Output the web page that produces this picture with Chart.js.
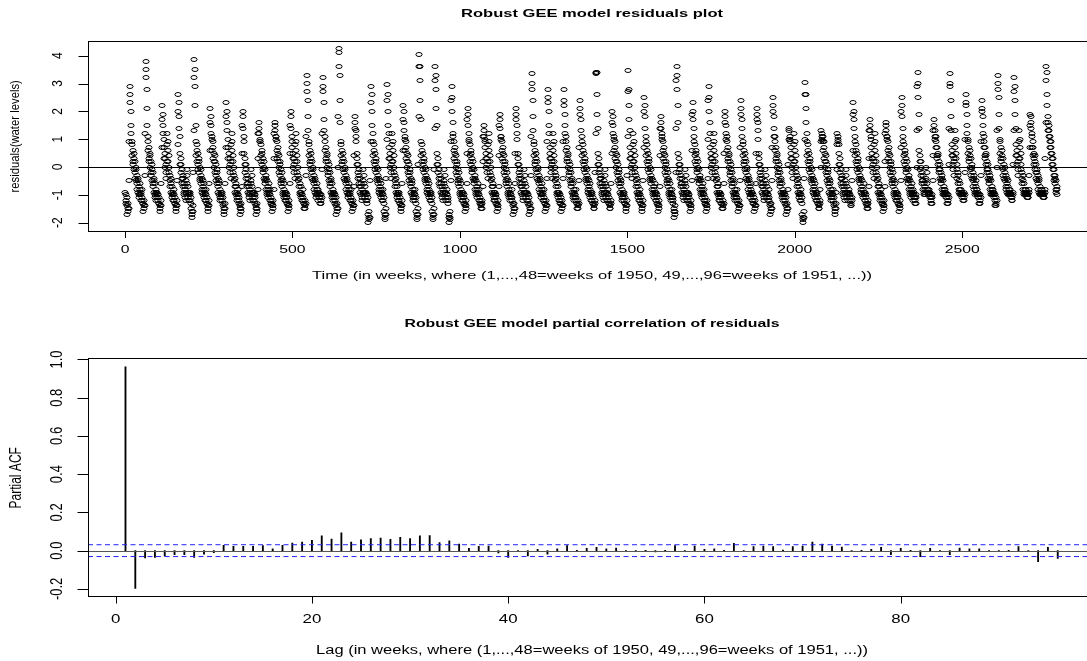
<!DOCTYPE html>
<html><head><meta charset="utf-8">
<script src="https://cdn.jsdelivr.net/npm/chart.js@4/dist/chart.umd.min.js"></script>
<style>
html,body{margin:0;padding:0;background:#fff;overflow:hidden;width:1087px;height:661px;position:relative;}
#c1{position:absolute;left:0;top:0;}
#c2{position:absolute;left:0;top:290px;}
</style></head><body>
<canvas id="c1" width="1110" height="290"></canvas>
<canvas id="c2" width="1110" height="371"></canvas>
<script>
// ---------- DATA (one line per 48-week year) ----------
const residuals = [
-0.9,-1.2,-1.0,-1.3,-1.1,-1.4,-1.7,-1.5,-1.6,-1.3,-1.5,-0.5,0.9,2.3,2.9,2.6,2.0,1.5,1.2,0.9,0.4,0.8,0.2,0.6,0.1,0.5,-0.1,0.3,-0.2,0.2,-0.4,0.0,-0.5,-0.1,-0.6,-0.3,-0.8,-0.4,-0.9,-0.5,-1.0,-0.7,-1.1,-0.8,-0.6,-1.0,-0.9,-1.2,
-1.0,-0.8,-1.2,-1.1,-1.3,-1.3,-1.6,-1.4,-1.5,-1.2,-1.4,-0.3,1.2,3.2,3.8,3.5,2.8,2.1,1.5,1.1,0.6,0.9,0.3,0.7,0.2,0.5,0.0,0.4,-0.2,0.2,-0.3,0.1,-0.5,-0.1,-0.6,-0.2,-0.7,-0.4,-0.9,-0.5,-1.0,-0.6,-1.1,-0.8,-1.2,-0.9,-1.0,-1.1,
-0.9,-1.2,-1.0,-1.3,-1.1,-1.3,-1.6,-1.4,-1.5,-1.2,-1.4,-0.6,0.7,1.7,2.2,1.9,1.5,1.2,1.0,0.7,0.3,0.5,0.0,0.3,-0.2,0.1,-0.4,0.2,0.8,1.2,0.6,0.9,0.2,0.4,-0.2,0.0,-0.5,-0.3,-0.7,-0.4,-0.9,-0.6,-1.0,-0.7,-1.1,-0.9,-1.2,-1.0,
-1.0,-0.8,-1.2,-1.1,-1.3,-1.3,-1.6,-1.4,-1.5,-1.2,-1.4,-0.5,0.8,2.0,2.6,2.3,1.8,1.4,1.1,0.5,0.1,0.3,-0.2,0.1,-0.4,-0.1,-0.6,-0.3,-0.7,-0.4,-0.9,-0.6,-1.0,-0.7,-1.1,-0.8,-1.2,-0.9,-0.5,-0.1,-0.6,-0.3,-0.9,-0.7,-1.1,-0.9,-1.2,-1.0,
-0.9,-1.2,-1.0,-1.3,-1.1,-1.5,-1.8,-1.6,-1.7,-1.4,-1.6,-0.2,1.3,3.2,3.85,3.5,2.9,2.2,1.5,0.9,0.4,0.8,0.2,0.6,0.1,0.5,-0.1,0.3,-0.2,0.2,-0.4,0.0,-0.5,-0.1,-0.6,-0.3,-0.8,-0.4,-0.9,-0.5,-1.0,-0.7,-1.1,-0.8,-0.6,-1.0,-0.9,-1.2,
-1.0,-0.8,-1.2,-1.1,-1.3,-1.3,-1.6,-1.4,-1.5,-1.2,-1.4,-0.6,0.6,1.6,2.1,1.8,1.5,1.2,1.0,1.1,0.6,0.9,0.3,0.7,0.2,0.5,0.0,0.4,-0.2,0.2,-0.3,0.1,-0.5,-0.1,-0.6,-0.2,-0.7,-0.4,-0.9,-0.5,-1.0,-0.6,-1.1,-0.8,-1.2,-0.9,-1.0,-1.1,
-0.9,-1.2,-1.0,-1.3,-1.1,-1.4,-1.7,-1.5,-1.6,-1.3,-1.5,-0.6,0.7,1.8,2.3,2.0,1.6,1.3,1.0,0.7,0.3,0.5,0.0,0.3,-0.2,0.1,-0.4,0.2,0.8,1.2,0.6,0.9,0.2,0.4,-0.2,0.0,-0.5,-0.3,-0.7,-0.4,-0.9,-0.6,-1.0,-0.7,-1.1,-0.9,-1.2,-1.0,
-1.0,-0.8,-1.2,-1.1,-1.3,-1.4,-1.7,-1.5,-1.6,-1.3,-1.5,-0.7,0.5,1.5,2.0,1.8,1.4,1.1,0.9,0.5,0.1,0.3,-0.2,0.1,-0.4,-0.1,-0.6,-0.3,-0.7,-0.4,-0.9,-0.6,-1.0,-0.7,-1.1,-0.8,-1.2,-0.9,-0.5,-0.1,-0.6,-0.3,-0.9,-0.7,-1.1,-0.9,-1.2,-1.0,
-0.9,-1.2,-1.0,-1.3,-1.1,-1.4,-1.7,-1.5,-1.6,-1.3,-1.5,-0.8,0.3,1.2,1.6,1.4,1.2,1.0,0.9,0.9,0.4,0.8,0.2,0.6,0.1,0.5,-0.1,0.3,-0.2,0.2,-0.4,0.0,-0.5,-0.1,-0.6,-0.3,-0.8,-0.4,-0.9,-0.5,-1.0,-0.7,-1.1,-0.8,-0.6,-1.0,-0.9,-1.2,
-1.0,-0.8,-1.2,-1.1,-1.3,-1.3,-1.6,-1.4,-1.5,-1.2,-1.4,-0.8,0.3,1.2,1.6,1.5,1.3,1.1,1.0,1.1,0.6,0.9,0.3,0.7,0.2,0.5,0.0,0.4,-0.2,0.2,-0.3,0.1,-0.5,-0.1,-0.6,-0.2,-0.7,-0.4,-0.9,-0.5,-1.0,-0.6,-1.1,-0.8,-1.2,-0.9,-1.0,-1.1,
-0.9,-1.2,-1.0,-1.3,-1.1,-1.3,-1.6,-1.4,-1.5,-1.2,-1.4,-0.6,0.5,1.5,2.0,1.8,1.4,1.1,0.9,0.7,0.3,0.5,0.0,0.3,-0.2,0.1,-0.4,0.2,0.8,1.2,0.6,0.9,0.2,0.4,-0.2,0.0,-0.5,-0.3,-0.7,-0.4,-0.9,-0.6,-1.0,-0.7,-1.1,-0.9,-1.2,-1.0,
-1.0,-0.8,-1.2,-1.1,-1.3,-1.3,-1.5,-1.4,-1.5,-1.2,-1.3,-0.3,1.1,2.7,3.3,3.0,2.4,1.8,1.3,0.9,0.4,0.8,0.2,0.6,0.1,0.5,-0.1,0.3,-0.2,0.2,-0.4,0.0,-0.5,-0.1,-0.6,-0.3,-0.8,-0.4,-0.9,-0.5,-1.0,-0.7,-1.1,-0.8,-0.6,-1.0,-0.9,-1.2,
-0.8,-1.0,-0.9,-1.1,-1.0,-1.1,-1.3,-1.2,-1.3,-1.0,-1.1,-0.1,1.2,2.7,3.2,2.9,2.3,1.7,1.3,1.1,0.6,0.9,0.3,0.7,0.2,0.5,0.0,0.4,-0.2,0.2,-0.3,0.1,-0.5,-0.1,-0.6,-0.2,-0.7,-0.4,-0.9,-0.5,-1.0,-0.6,-1.1,-0.8,-1.2,-0.9,-1.0,-1.1,
-0.9,-1.2,-1.0,-1.3,-1.1,-1.4,-1.7,-1.5,-1.6,-1.3,-1.5,0.0,1.8,3.6,4.25,4.1,3.3,2.4,1.6,0.9,0.4,0.8,0.2,0.6,0.1,0.5,-0.1,0.3,-0.2,0.2,-0.4,0.0,-0.5,-0.1,-0.6,-0.3,-0.8,-0.4,-0.9,-0.5,-1.0,-0.7,-1.1,-0.8,-0.6,-1.0,-0.9,-1.2,
-1.0,-0.8,-1.2,-1.1,-1.3,-1.3,-1.6,-1.4,-1.5,-1.2,-1.4,-0.7,0.4,1.4,1.8,1.6,1.3,1.1,0.9,0.5,0.1,0.3,-0.2,0.1,-0.4,-0.1,-0.6,-0.3,-0.7,-0.4,-0.9,-0.6,-1.0,-0.7,-1.1,-0.8,-1.2,-0.9,-0.5,-0.1,-0.6,-0.3,-0.9,-0.7,-1.1,-0.9,-1.2,-1.0,
-0.9,-1.2,-1.0,-1.3,-1.1,-1.7,-2.0,-1.8,-1.9,-1.6,-1.8,-0.5,0.9,2.3,2.9,2.6,2.0,1.5,1.2,0.9,0.4,0.8,0.2,0.6,0.1,0.5,-0.1,0.3,-0.2,0.2,-0.4,0.0,-0.5,-0.1,-0.6,-0.3,-0.8,-0.4,-0.9,-0.5,-1.0,-0.7,-1.1,-0.8,-0.6,-1.0,-0.9,-1.2,
-1.0,-0.8,-1.2,-1.1,-1.3,-1.6,-1.9,-1.7,-1.8,-1.5,-1.7,-0.4,1.0,2.4,2.95,2.6,2.0,1.5,1.2,0.7,0.3,0.5,0.0,0.3,-0.2,0.1,-0.4,0.2,0.8,1.2,0.6,0.9,0.2,0.4,-0.2,0.0,-0.5,-0.3,-0.7,-0.4,-0.9,-0.6,-1.0,-0.7,-1.1,-0.9,-1.2,-1.0,
-0.9,-1.2,-1.0,-1.3,-1.1,-1.3,-1.6,-1.4,-1.5,-1.2,-1.4,-0.6,0.6,1.7,2.2,2.0,1.6,1.3,1.0,1.1,0.6,0.9,0.3,0.7,0.2,0.5,0.0,0.4,-0.2,0.2,-0.3,0.1,-0.5,-0.1,-0.6,-0.2,-0.7,-0.4,-0.9,-0.5,-1.0,-0.6,-1.1,-0.8,-1.2,-0.9,-1.0,-1.1,
-1.0,-0.8,-1.2,-1.1,-1.3,-1.6,-1.9,-1.7,-1.8,-1.5,-1.7,0.1,1.8,3.6,4.05,3.6,3.1,2.4,1.7,0.9,0.4,0.8,0.2,0.6,0.1,0.5,-0.1,0.3,-0.2,0.2,-0.4,0.0,-0.5,-0.1,-0.6,-0.3,-0.8,-0.4,-0.9,-0.5,-1.0,-0.7,-1.1,-0.8,-0.6,-1.0,-0.9,-1.2,
-0.9,-1.2,-1.0,-1.3,-1.1,-1.6,-1.9,-1.7,-1.8,-1.5,-1.7,-0.1,1.4,3.1,3.6,3.3,2.8,2.1,1.5,0.5,0.1,0.3,-0.2,0.1,-0.4,-0.1,-0.6,-0.3,-0.7,-0.4,-0.9,-0.6,-1.0,-0.7,-1.1,-0.8,-1.2,-0.9,-0.5,-0.1,-0.6,-0.3,-0.9,-0.7,-1.1,-0.9,-1.2,-1.0,
-1.0,-0.8,-1.2,-1.1,-1.3,-1.7,-2.0,-1.8,-1.9,-1.6,-1.8,-0.5,0.9,2.4,2.9,2.5,2.0,1.6,1.2,1.1,0.6,0.9,0.3,0.7,0.2,0.5,0.0,0.4,-0.2,0.2,-0.3,0.1,-0.5,-0.1,-0.6,-0.2,-0.7,-0.4,-0.9,-0.5,-1.0,-0.6,-1.1,-0.8,-1.2,-0.9,-1.0,-1.1,
-0.9,-1.2,-1.0,-1.3,-1.1,-1.3,-1.6,-1.4,-1.5,-1.2,-1.4,-0.6,0.5,1.7,2.1,1.9,1.5,1.2,1.0,0.9,0.4,0.8,0.2,0.6,0.1,0.5,-0.1,0.3,-0.2,0.2,-0.4,0.0,-0.5,-0.1,-0.6,-0.3,-0.8,-0.4,-0.9,-0.5,-1.0,-0.7,-1.1,-0.8,-0.6,-1.0,-0.9,-1.2,
-1.0,-0.8,-1.2,-1.1,-1.3,-1.3,-1.5,-1.4,-1.5,-1.2,-1.3,-0.7,0.2,1.1,1.5,1.3,1.1,1.0,0.9,0.7,0.3,0.5,0.0,0.3,-0.2,0.1,-0.4,0.2,0.8,1.2,0.6,0.9,0.2,0.4,-0.2,0.0,-0.5,-0.3,-0.7,-0.4,-0.9,-0.6,-1.0,-0.7,-1.1,-0.9,-1.2,-1.0,
-0.9,-1.2,-1.0,-1.3,-1.1,-1.3,-1.6,-1.4,-1.5,-1.2,-1.4,-0.7,0.4,1.5,1.9,1.7,1.4,1.1,1.0,1.1,0.6,0.9,0.3,0.7,0.2,0.5,0.0,0.4,-0.2,0.2,-0.3,0.1,-0.5,-0.1,-0.6,-0.2,-0.7,-0.4,-0.9,-0.5,-1.0,-0.6,-1.1,-0.8,-1.2,-0.9,-1.0,-1.1,
-1.0,-0.8,-1.2,-1.1,-1.3,-1.4,-1.7,-1.5,-1.6,-1.3,-1.5,-0.6,0.5,1.7,2.1,1.9,1.5,1.2,1.0,0.5,0.1,0.3,-0.2,0.1,-0.4,-0.1,-0.6,-0.3,-0.7,-0.4,-0.9,-0.6,-1.0,-0.7,-1.1,-0.8,-1.2,-0.9,-0.5,-0.1,-0.6,-0.3,-0.9,-0.7,-1.1,-0.9,-1.2,-1.0,
-0.9,-1.2,-1.0,-1.3,-1.1,-1.4,-1.7,-1.5,-1.6,-1.3,-1.5,-0.3,1.1,2.8,3.35,3.0,2.4,1.8,1.3,0.9,0.4,0.8,0.2,0.6,0.1,0.5,-0.1,0.3,-0.2,0.2,-0.4,0.0,-0.5,-0.1,-0.6,-0.3,-0.8,-0.4,-0.9,-0.5,-1.0,-0.7,-1.1,-0.8,-0.6,-1.0,-0.9,-1.2,
-1.0,-0.8,-1.2,-1.1,-1.3,-1.3,-1.6,-1.4,-1.5,-1.2,-1.4,-0.4,0.9,2.3,2.8,2.5,2.0,1.5,1.2,0.7,0.3,0.5,0.0,0.3,-0.2,0.1,-0.4,0.2,0.8,1.2,0.6,0.9,0.2,0.4,-0.2,0.0,-0.5,-0.3,-0.7,-0.4,-0.9,-0.6,-1.0,-0.7,-1.1,-0.9,-1.2,-1.0,
-0.9,-1.2,-1.0,-1.3,-1.1,-1.3,-1.6,-1.4,-1.5,-1.2,-1.4,-0.4,0.9,2.2,2.8,2.4,1.9,1.5,1.2,1.1,0.6,0.9,0.3,0.7,0.2,0.5,0.0,0.4,-0.2,0.2,-0.3,0.1,-0.5,-0.1,-0.6,-0.2,-0.7,-0.4,-0.9,-0.5,-1.0,-0.6,-1.1,-0.8,-1.2,-0.9,-1.0,-1.1,
-1.0,-0.8,-1.2,-1.1,-1.3,-1.3,-1.5,-1.4,-1.5,-1.2,-1.3,-0.5,0.7,1.9,2.4,2.1,1.7,1.3,1.1,0.9,0.4,0.8,0.2,0.6,0.1,0.5,-0.1,0.3,-0.2,0.2,-0.4,0.0,-0.5,-0.1,-0.6,-0.3,-0.8,-0.4,-0.9,-0.5,-1.0,-0.7,-1.1,-0.8,-0.6,-1.0,-0.9,-1.2,
-0.9,-1.2,-1.0,-1.3,-1.1,-1.3,-1.5,-1.4,-1.5,-1.2,-1.3,-0.2,1.2,3.36,3.4,3.38,2.6,1.9,1.4,0.5,0.1,0.3,-0.2,0.1,-0.4,-0.1,-0.6,-0.3,-0.7,-0.4,-0.9,-0.6,-1.0,-0.7,-1.1,-0.8,-1.2,-0.9,-0.5,-0.1,-0.6,-0.3,-0.9,-0.7,-1.1,-0.9,-1.2,-1.0,
-1.0,-0.8,-1.2,-1.1,-1.3,-1.3,-1.5,-1.4,-1.5,-1.2,-1.3,-0.6,0.5,1.6,2.0,1.8,1.5,1.2,1.0,1.1,0.6,0.9,0.3,0.7,0.2,0.5,0.0,0.4,-0.2,0.2,-0.3,0.1,-0.5,-0.1,-0.6,-0.2,-0.7,-0.4,-0.9,-0.5,-1.0,-0.6,-1.1,-0.8,-1.2,-0.9,-1.0,-1.1,
-0.9,-1.2,-1.0,-1.3,-1.1,-1.3,-1.6,-1.4,-1.5,-1.2,-1.4,-0.3,1.1,2.7,3.45,2.8,2.2,1.7,1.3,0.7,0.3,0.5,0.0,0.3,-0.2,0.1,-0.4,0.2,0.8,1.2,0.6,0.9,0.2,0.4,-0.2,0.0,-0.5,-0.3,-0.7,-0.4,-0.9,-0.6,-1.0,-0.7,-1.1,-0.9,-1.2,-1.0,
-1.0,-0.8,-1.2,-1.1,-1.3,-1.3,-1.6,-1.4,-1.5,-1.2,-1.4,-0.5,0.7,2.0,2.5,2.2,1.8,1.4,1.1,0.9,0.4,0.8,0.2,0.6,0.1,0.5,-0.1,0.3,-0.2,0.2,-0.4,0.0,-0.5,-0.1,-0.6,-0.3,-0.8,-0.4,-0.9,-0.5,-1.0,-0.7,-1.1,-0.8,-0.6,-1.0,-0.9,-1.2,
-0.9,-1.2,-1.0,-1.3,-1.1,-1.3,-1.6,-1.4,-1.5,-1.2,-1.4,-0.7,0.4,1.4,1.8,1.6,1.4,1.2,1.0,1.1,0.6,0.9,0.3,0.7,0.2,0.5,0.0,0.4,-0.2,0.2,-0.3,0.1,-0.5,-0.1,-0.6,-0.2,-0.7,-0.4,-0.9,-0.5,-1.0,-0.6,-1.1,-0.8,-1.2,-0.9,-1.0,-1.1,
-1.0,-0.8,-1.2,-1.1,-1.3,-1.5,-1.8,-1.6,-1.7,-1.4,-1.6,-0.2,1.4,3.1,3.6,3.3,2.8,2.2,1.6,0.5,0.1,0.3,-0.2,0.1,-0.4,-0.1,-0.6,-0.3,-0.7,-0.4,-0.9,-0.6,-1.0,-0.7,-1.1,-0.8,-1.2,-0.9,-0.5,-0.1,-0.6,-0.3,-0.9,-0.7,-1.1,-0.9,-1.2,-1.0,
-0.9,-1.2,-1.0,-1.3,-1.1,-1.3,-1.6,-1.4,-1.5,-1.2,-1.4,-0.5,0.6,1.9,2.3,2.0,1.7,1.4,1.1,0.9,0.4,0.8,0.2,0.6,0.1,0.5,-0.1,0.3,-0.2,0.2,-0.4,0.0,-0.5,-0.1,-0.6,-0.3,-0.8,-0.4,-0.9,-0.5,-1.0,-0.7,-1.1,-0.8,-0.6,-1.0,-0.9,-1.2,
-1.0,-0.8,-1.2,-1.1,-1.3,-1.3,-1.6,-1.4,-1.5,-1.2,-1.4,-0.4,1.0,2.4,2.9,2.5,2.0,1.6,1.2,0.7,0.3,0.5,0.0,0.3,-0.2,0.1,-0.4,0.2,0.8,1.2,0.6,0.9,0.2,0.4,-0.2,0.0,-0.5,-0.3,-0.7,-0.4,-0.9,-0.6,-1.0,-0.7,-1.1,-0.9,-1.2,-1.0,
-0.9,-1.2,-1.0,-1.3,-1.1,-1.3,-1.5,-1.4,-1.5,-1.2,-1.3,-0.6,0.5,1.6,2.0,1.8,1.5,1.2,1.0,1.1,0.6,0.9,0.3,0.7,0.2,0.5,0.0,0.4,-0.2,0.2,-0.3,0.1,-0.5,-0.1,-0.6,-0.2,-0.7,-0.4,-0.9,-0.5,-1.0,-0.6,-1.1,-0.8,-1.2,-0.9,-1.0,-1.1,
-1.0,-0.8,-1.2,-1.1,-1.3,-1.3,-1.6,-1.4,-1.5,-1.2,-1.4,-0.5,0.7,1.9,2.4,2.1,1.7,1.4,1.1,0.9,0.4,0.8,0.2,0.6,0.1,0.5,-0.1,0.3,-0.2,0.2,-0.4,0.0,-0.5,-0.1,-0.6,-0.3,-0.8,-0.4,-0.9,-0.5,-1.0,-0.7,-1.1,-0.8,-0.6,-1.0,-0.9,-1.2,
-0.9,-1.2,-1.0,-1.3,-1.1,-1.3,-1.6,-1.4,-1.5,-1.2,-1.4,-0.6,0.5,1.7,2.1,1.9,1.6,1.3,1.0,0.5,0.1,0.3,-0.2,0.1,-0.4,-0.1,-0.6,-0.3,-0.7,-0.4,-0.9,-0.6,-1.0,-0.7,-1.1,-0.8,-1.2,-0.9,-0.5,-0.1,-0.6,-0.3,-0.9,-0.7,-1.1,-0.9,-1.2,-1.0,
-1.0,-0.8,-1.2,-1.1,-1.3,-1.4,-1.7,-1.5,-1.6,-1.3,-1.5,-0.5,0.7,2.0,2.5,2.2,1.8,1.4,1.1,1.1,0.6,0.9,0.3,0.7,0.2,0.5,0.0,0.4,-0.2,0.2,-0.3,0.1,-0.5,-0.1,-0.6,-0.2,-0.7,-0.4,-0.9,-0.5,-1.0,-0.6,-1.1,-0.8,-1.2,-0.9,-1.0,-1.1,
-0.9,-1.2,-1.0,-1.3,-1.1,-1.4,-1.7,-1.5,-1.6,-1.3,-1.5,-0.8,0.1,1.0,1.4,1.3,1.1,1.0,0.9,0.7,0.3,0.5,0.0,0.3,-0.2,0.1,-0.4,0.2,0.8,1.2,0.6,0.9,0.2,0.4,-0.2,0.0,-0.5,-0.3,-0.7,-0.4,-0.9,-0.6,-1.0,-0.7,-1.1,-0.9,-1.2,-1.0,
-1.0,-0.8,-1.2,-1.1,-1.3,-1.7,-2.0,-1.8,-1.9,-1.6,-1.8,-0.4,1.0,2.6,3.05,2.6,2.1,1.6,1.2,0.9,0.4,0.8,0.2,0.6,0.1,0.5,-0.1,0.3,-0.2,0.2,-0.4,0.0,-0.5,-0.1,-0.6,-0.3,-0.8,-0.4,-0.9,-0.5,-1.0,-0.7,-1.1,-0.8,-0.6,-1.0,-0.9,-1.2,
-0.9,-1.2,-1.0,-1.3,-1.1,-1.3,-1.5,-1.4,-1.5,-1.2,-1.3,-0.8,0.0,0.9,1.3,1.2,1.1,1.0,0.9,1.1,0.6,0.9,0.3,0.7,0.2,0.5,0.0,0.4,-0.2,0.2,-0.3,0.1,-0.5,-0.1,-0.6,-0.2,-0.7,-0.4,-0.9,-0.5,-1.0,-0.6,-1.1,-0.8,-1.2,-0.9,-1.0,-1.1,
-1.0,-0.8,-1.2,-1.1,-1.3,-1.4,-1.7,-1.5,-1.6,-1.3,-1.5,-0.9,-0.1,0.8,1.2,1.1,1.0,0.9,0.8,0.5,0.1,0.3,-0.2,0.1,-0.4,-0.1,-0.6,-0.3,-0.7,-0.4,-0.9,-0.6,-1.0,-0.7,-1.1,-0.8,-1.2,-0.9,-0.5,-0.1,-0.6,-0.3,-0.9,-0.7,-1.1,-0.9,-1.2,-1.0,
-0.8,-1.0,-0.9,-1.1,-1.0,-1.2,-1.4,-1.3,-1.4,-1.1,-1.2,-0.5,0.6,1.9,2.3,2.0,1.7,1.4,1.1,0.9,0.4,0.8,0.2,0.6,0.1,0.5,-0.1,0.3,-0.2,0.2,-0.4,0.0,-0.5,-0.1,-0.6,-0.3,-0.8,-0.4,-0.9,-0.5,-1.0,-0.7,-1.1,-0.8,-0.6,-1.0,-0.9,-1.2,
-0.9,-1.2,-1.0,-1.3,-1.1,-1.3,-1.5,-1.4,-1.5,-1.2,-1.3,-0.7,0.3,1.3,1.7,1.5,1.3,1.1,1.0,0.7,0.3,0.5,0.0,0.3,-0.2,0.1,-0.4,0.2,0.8,1.2,0.6,0.9,0.2,0.4,-0.2,0.0,-0.5,-0.3,-0.7,-0.4,-0.9,-0.6,-1.0,-0.7,-1.1,-0.9,-1.2,-1.0,
-1.0,-0.8,-1.2,-1.1,-1.3,-1.3,-1.6,-1.4,-1.5,-1.2,-1.4,-0.7,0.2,1.2,1.6,1.5,1.3,1.1,1.0,1.1,0.6,0.9,0.3,0.7,0.2,0.5,0.0,0.4,-0.2,0.2,-0.3,0.1,-0.5,-0.1,-0.6,-0.2,-0.7,-0.4,-0.9,-0.5,-1.0,-0.6,-1.1,-0.8,-1.2,-0.9,-1.0,-1.1,
-0.9,-1.2,-1.0,-1.3,-1.1,-1.3,-1.6,-1.4,-1.5,-1.2,-1.4,-0.5,0.7,2.0,2.5,2.2,1.8,1.4,1.1,0.9,0.4,0.8,0.2,0.6,0.1,0.5,-0.1,0.3,-0.2,0.2,-0.4,0.0,-0.5,-0.1,-0.6,-0.3,-0.8,-0.4,-0.9,-0.5,-1.0,-0.7,-1.1,-0.8,-0.6,-1.0,-0.9,-1.2,
-0.8,-1.0,-0.9,-1.1,-1.0,-1.1,-1.3,-1.2,-1.3,-1.0,-1.1,0.0,1.3,2.9,3.4,3.0,2.5,1.9,1.4,0.6,0.2,0.4,-0.1,0.2,-0.3,0.0,-0.5,-0.2,-0.6,-0.3,-0.8,-0.5,-0.9,-0.6,-1.0,-0.7,-1.0,-0.8,-0.4,0.0,-0.5,-0.2,-0.8,-0.6,-0.9,-0.8,-1.0,-0.9,
-0.8,-1.0,-0.9,-1.1,-1.0,-1.1,-1.3,-1.2,-1.3,-1.0,-1.1,-0.5,0.4,1.3,1.7,1.5,1.3,1.1,1.0,1.1,0.7,0.9,0.4,0.7,0.3,0.5,0.1,0.4,-0.1,0.2,-0.2,0.1,-0.4,-0.1,-0.5,-0.2,-0.6,-0.3,-0.8,-0.4,-0.9,-0.5,-1.0,-0.7,-1.0,-0.8,-0.9,-1.0,
-0.8,-1.0,-0.9,-1.1,-1.0,-1.1,-1.3,-1.2,-1.3,-1.0,-1.1,0.1,1.4,2.9,3.35,3.0,2.4,1.8,1.3,0.8,0.4,0.6,0.1,0.4,-0.1,0.2,-0.3,0.3,0.9,1.3,0.7,1.0,0.3,0.5,-0.1,0.1,-0.4,-0.2,-0.6,-0.3,-0.8,-0.5,-0.9,-0.6,-1.0,-0.8,-1.0,-0.9,
-0.8,-1.0,-0.9,-1.1,-1.0,-1.0,-1.2,-1.1,-1.2,-0.9,-1.0,-0.2,1.0,2.2,2.6,2.3,1.9,1.5,1.2,1.0,0.5,0.9,0.3,0.7,0.2,0.6,0.0,0.4,-0.1,0.3,-0.3,0.1,-0.4,0.0,-0.5,-0.2,-0.7,-0.3,-0.8,-0.4,-0.9,-0.6,-1.0,-0.7,-0.5,-0.9,-0.8,-1.0,
-0.8,-1.0,-0.9,-1.1,-1.0,-1.1,-1.3,-1.2,-1.3,-1.0,-1.1,-0.3,0.9,2.0,2.4,2.1,1.8,1.5,1.2,1.1,0.7,0.9,0.4,0.7,0.3,0.5,0.1,0.4,-0.1,0.2,-0.2,0.1,-0.4,-0.1,-0.5,-0.2,-0.6,-0.3,-0.8,-0.4,-0.9,-0.5,-1.0,-0.7,-1.0,-0.8,-0.9,-1.0,
-0.8,-1.0,-0.9,-1.1,-1.0,-1.2,-1.4,-1.3,-1.4,-1.1,-1.2,0.0,1.3,2.8,3.3,3.0,2.5,1.9,1.4,1.0,0.5,0.9,0.3,0.7,0.2,0.6,0.0,0.4,-0.1,0.3,-0.3,0.1,-0.4,0.0,-0.5,-0.2,-0.7,-0.3,-0.8,-0.4,-0.9,-0.6,-1.0,-0.7,-0.5,-0.9,-0.8,-1.0,
-0.8,-1.0,-0.9,-1.1,-1.0,-1.0,-1.2,-1.1,-1.2,-0.9,-1.0,0.1,1.3,2.7,3.2,2.9,2.4,1.9,1.4,0.8,0.4,0.6,0.1,0.4,-0.1,0.2,-0.3,0.3,0.9,1.3,0.7,1.0,0.3,0.5,-0.1,0.1,-0.4,-0.2,-0.6,-0.3,-0.8,-0.5,-0.9,-0.6,-1.0,-0.8,-1.0,-0.9,
-0.8,-1.0,-0.9,-1.1,-1.0,-0.9,-1.1,-1.0,-1.1,-0.8,-0.9,-0.3,0.7,1.5,1.9,1.8,1.6,1.4,1.2,1.1,0.7,0.9,0.4,0.7,0.3,0.5,0.1,0.4,-0.1,0.2,-0.2,0.1,-0.4,-0.1,-0.5,-0.2,-0.6,-0.3,-0.8,-0.4,-0.9,-0.5,-1.0,-0.7,-1.0,-0.8,-0.9,-1.0,
-0.8,-1.0,-0.9,-1.1,-1.0,-0.9,-1.1,-1.0,-1.1,-0.8,-0.9,0.3,1.6,3.1,3.6,3.4,2.6,2.2,1.8,1.6,1.3,1.5,1.1,1.3,0.9,1.1,0.7,0.9,0.5,0.7,0.3,0.5,0.1,0.3,-0.1,0.1,-0.3,-0.1,-0.5,-0.3,-0.6,-0.4,-0.8,-0.5,-0.9,-0.7,-1.0,-0.8
];
const timeIndex = residuals.map((_, i) => i + 1);
const timeTicks = [0, 500, 1000, 1500, 2000, 2500];
const residTicks = [-2, -1, 0, 1, 2, 3, 4];

const pacfLags = Array.from({ length: 96 }, (_, i) => i + 1);
const pacfValues = [
0.962,-0.198,-0.038,-0.035,-0.028,-0.021,-0.021,-0.035,-0.019,-0.010,
0.028,0.023,0.023,0.023,0.026,0.010,0.028,0.040,0.045,0.054,
0.077,0.061,0.093,0.045,0.056,0.063,0.066,0.059,0.070,0.063,
0.077,0.079,0.042,0.051,0.035,0.012,0.023,0.024,-0.012,-0.035,
-0.002,-0.028,0.007,-0.019,0.010,0.026,0.002,0.012,0.017,0.010,
0.014,0.001,-0.002,0.002,-0.007,0.002,0.026,-0.002,0.024,0.007,
0.010,0.002,0.038,-0.003,0.021,0.024,0.021,0.003,0.021,0.024,
0.045,0.035,0.024,0.019,-0.005,0.002,0.007,0.017,-0.021,0.012,
0.002,-0.031,0.012,-0.002,-0.021,0.014,0.010,0.010,-0.002,-0.002,
0.002,0.021,-0.002,-0.058,0.017,-0.040
];
const lagTicks = [0, 20, 40, 60, 80];
const pacfTicks = [-0.2, 0.0, 0.2, 0.4, 0.6, 0.8, 1.0];
const pacfTickLabels = ['-0.2', '0.0', '0.2', '0.4', '0.6', '0.8', '1.0'];
const ciBound = 0.031;

// ---------- DRAWING HELPERS ----------
const FONT = '"Liberation Sans", Arial, Helvetica, sans-serif';
function drawText(ctx, s, x, y, o) {
  ctx.save();
  ctx.font = (o.bold ? 'bold ' : '') + o.size + 'px ' + FONT;
  ctx.fillStyle = '#000';
  ctx.textAlign = 'center';
  ctx.textBaseline = 'middle';
  let sx = o.sx || 1;
  if (o.width) sx = o.width / ctx.measureText(s).width;
  ctx.translate(x, y);
  if (o.rot) { ctx.rotate(-Math.PI / 2); ctx.scale(1, sx); }
  else ctx.scale(sx, 1);
  ctx.fillText(s, 0, 0);
  ctx.restore();
}
function rFrame(cfg) {
  return {
    id: 'rFrame',
    beforeDatasetsDraw(chart) { chart.ctx.imageSmoothingEnabled = false; },
    afterDatasetsDraw(chart) {
      const { ctx, chartArea: a, scales: { x, y } } = chart;
      ctx.save();
      ctx.imageSmoothingEnabled = true;
      for (const h of cfg.hlines) {
        let py = y.getPixelForValue(h.v);
        if (h.snap) py = Math.round(py) + 0.5;
        ctx.beginPath();
        ctx.strokeStyle = h.color; ctx.lineWidth = h.width;
        ctx.setLineDash(h.dash || []);
        ctx.moveTo(a.left, py); ctx.lineTo(a.right, py); ctx.stroke();
      }
      ctx.setLineDash([]);
      ctx.strokeStyle = '#000'; ctx.lineWidth = 1;
      const L = Math.round(a.left) + 0.5, T = Math.round(a.top) + 0.5;
      const R = Math.round(a.right) - 0.5, B = Math.round(a.bottom) - 0.5;
      ctx.strokeRect(L, T, R - L, B - T);
      ctx.beginPath();
      for (const v of cfg.xTicks) {
        const px = Math.round(x.getPixelForValue(v)) + 0.5;
        ctx.moveTo(px, B); ctx.lineTo(px, B + cfg.xTickLen);
      }
      for (const v of cfg.yTicks) {
        const py = Math.round(y.getPixelForValue(v)) + 0.5;
        ctx.moveTo(L - cfg.yTickLen, py); ctx.lineTo(L, py);
      }
      ctx.stroke();
      cfg.xTicks.forEach((v, i) => drawText(ctx, cfg.xLabels[i], x.getPixelForValue(v), cfg.xLabelY, cfg.xTickFont));
      cfg.yTicks.forEach((v, i) => drawText(ctx, cfg.yLabels[i], cfg.yLabelX, y.getPixelForValue(v), Object.assign({ rot: true }, cfg.yTickFont)));
      const cx = (a.left + a.right) / 2;
      drawText(ctx, cfg.title, cx, cfg.titleY, cfg.titleFont);
      drawText(ctx, cfg.xTitle, cx, cfg.xTitleY, cfg.xTitleFont);
      drawText(ctx, cfg.yTitle, cfg.yTitleX, (a.top + a.bottom) / 2, Object.assign({ rot: true }, cfg.yTitleFont));
      ctx.restore();
    }
  };
}
function ellipseMarker() {
  const c = document.createElement('canvas');
  c.width = 10; c.height = 7;
  const g = c.getContext('2d');
  g.strokeStyle = '#000'; g.lineWidth = 1;
  g.beginPath(); g.ellipse(5, 3.5, 3.1, 2.0, 0, 0, Math.PI * 2); g.stroke();
  return c;
}
const XTITLE = 'Time (in weeks, where (1,...,48=weeks of 1950, 49,...,96=weeks of 1951, ...))';
const LTITLE = 'Lag (in weeks, where (1,...,48=weeks of 1950, 49,...,96=weeks of 1951, ...))';

const common = {
  responsive: false, animation: false, devicePixelRatio: 1, events: [],
  plugins: { legend: { display: false }, tooltip: { enabled: false }, title: { display: false } }
};

// ---------- TOP: residuals ----------
new Chart(document.getElementById('c1'), {
  type: 'scatter',
  data: { datasets: [{
    data: timeIndex.map((t, i) => ({ x: t, y: residuals[i] })),
    pointStyle: ellipseMarker(), pointRadius: 3, showLine: false
  }] },
  options: Object.assign({}, common, {
    layout: { padding: { left: 88, top: 41, right: 14, bottom: 58.3 } },
    scales: {
      x: { type: 'linear', min: -110.5, max: 2899.2, display: false },
      y: { type: 'linear', min: -2.325, max: 4.528, display: false }
    }
  }),
  plugins: [rFrame({
    hlines: [{ v: 0, color: '#000', width: 1, snap: true }],
    xTicks: timeTicks, xLabels: timeTicks.map(String), xTickLen: 6.5, xLabelY: 250.5,
    xTickFont: { size: 10.5, sx: 1.5 },
    yTicks: residTicks, yLabels: residTicks.map(String), yTickLen: 10, yLabelX: 58,
    yTickFont: { size: 12, sx: 1.2 },
    title: 'Robust GEE model residuals plot', titleY: 13.5, titleFont: { size: 11.6, bold: true, width: 262 },
    xTitle: XTITLE, xTitleY: 276, xTitleFont: { size: 10.5, width: 560 },
    yTitle: 'residuals(water levels)', yTitleX: 15, yTitleFont: { size: 11.3, sx: 1.2 }
  })]
});

// ---------- BOTTOM: partial ACF ----------
new Chart(document.getElementById('c2'), {
  type: 'bar',
  data: { datasets: [{
    data: pacfLags.map((l, i) => ({ x: l, y: pacfValues[i] })),
    backgroundColor: '#000', borderWidth: 0, barThickness: 1.2
  }] },
  options: Object.assign({}, common, {
    layout: { padding: { left: 88, top: 68.3, right: 14, bottom: 63.7 } },
    scales: {
      x: { type: 'linear', min: -2.82, max: 99.9, display: false, offset: false },
      y: { type: 'linear', min: -0.244, max: 1.006, display: false }
    }
  }),
  plugins: [rFrame({
    hlines: [
      { v: 0, color: '#555', width: 1.2, snap: true },
      { v: ciBound, color: '#2020ff', width: 1, dash: [5, 3.5] },
      { v: -ciBound, color: '#2020ff', width: 1, dash: [5, 3.5] }
    ],
    xTicks: lagTicks, xLabels: lagTicks.map(String), xTickLen: 7, xLabelY: 330,
    xTickFont: { size: 12.5, sx: 1.35 },
    yTicks: pacfTicks, yLabels: pacfTickLabels, yTickLen: 11, yLabelX: 57.5,
    yTickFont: { size: 13, sx: 1.2 },
    title: 'Robust GEE model partial correlation of residuals', titleY: 34, titleFont: { size: 11.6, bold: true, width: 375 },
    xTitle: LTITLE, xTitleY: 361, xTitleFont: { size: 12, width: 552 },
    yTitle: 'Partial ACF', yTitleX: 16.5, yTitleFont: { size: 12, sx: 1.3 }
  })]
});
</script>
</body></html>
